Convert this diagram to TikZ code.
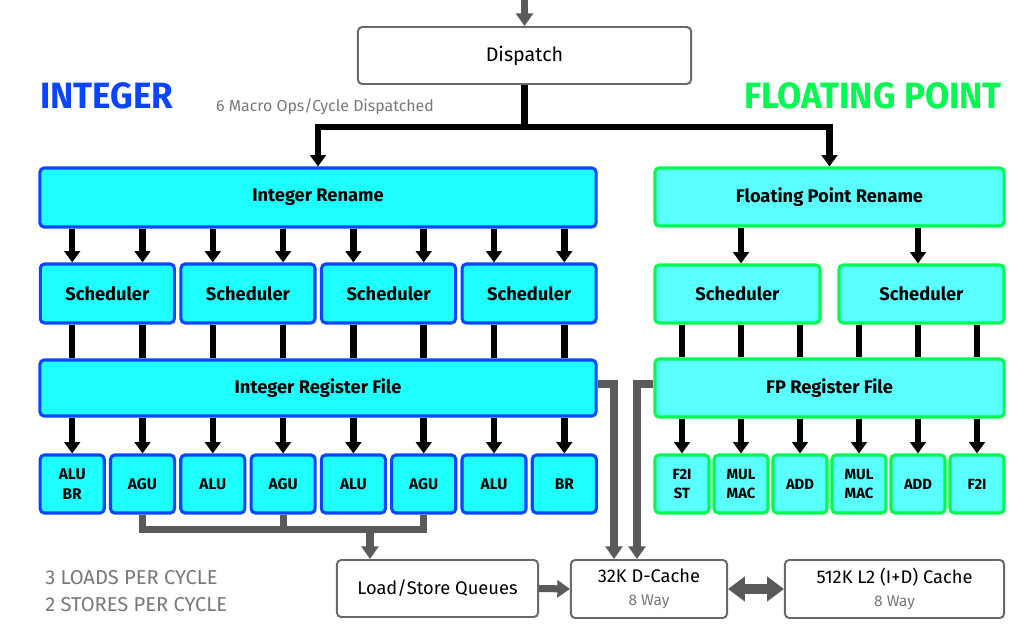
\documentclass[tikz,border=0pt]{standalone}
\usepackage{fontspec}
\setmainfont{Fira Sans}
\newfontfamily\headfont{Fira Sans}[FakeStretch=0.96]
\usetikzlibrary{arrows.meta}
\usetikzlibrary{calc}

\definecolor{intfill}{RGB}{30,255,255}
\definecolor{intline}{RGB}{10,70,255}
\definecolor{fpfill}{RGB}{90,255,255}
\definecolor{fpline}{RGB}{0,250,80}
\definecolor{wiregray}{RGB}{90,90,90}
\definecolor{boxgray}{RGB}{105,105,105}
\definecolor{txtgray}{RGB}{120,120,120}

\begin{document}
\begin{tikzpicture}[x=0.025cm, y=-0.025cm, line join=miter,
        int_box/.style={draw=intline, fill=intfill, line width=2.2pt, rounded corners=3pt, inner sep=0pt, font=\bfseries\fontsize{13}{15}\selectfont},
        fp_box/.style={draw=fpline, fill=fpfill, line width=2.2pt, rounded corners=3pt, inner sep=0pt, font=\bfseries\fontsize{13}{15}\selectfont},
        int_unit/.style={int_box, minimum width=1.6cm, minimum height=1.45cm, align=center, font=\bfseries\fontsize{11}{14}\selectfont},
        fp_unit/.style={fp_box, minimum width=1.35cm, minimum height=1.45cm, align=center, font=\bfseries\fontsize{10.5}{13.5}\selectfont},
        plain_box/.style={draw=boxgray, fill=white, line width=1.4pt, rounded corners=3pt, inner sep=0pt, align=center, font=\fontsize{13}{17}\selectfont},
        note_style/.style={text=txtgray, inner sep=0pt, font=\fontsize{11.3}{13}\selectfont},
        blk_line/.style={draw=black, line width=4.6pt},
        blk_arrow/.style={blk_line, -{Triangle[width=11pt,length=8pt]}},
        gray_line/.style={draw=wiregray, line width=5pt},
        gray_arrow/.style={gray_line, -{Triangle[width=12pt,length=9pt]}},
        gray_both/.style={draw=wiregray, line width=7pt, {Triangle[width=17pt,length=12pt]}-{Triangle[width=17pt,length=12pt]}}]

        \useasboundingbox (0,0) rectangle (1022,637);

        % titles
        \node [text=intline, inner sep=0pt, font=\headfont\bfseries\fontsize{26}{30}\selectfont](int_title) at (107,96) {INTEGER};

        \node [text=fpline, inner sep=0pt, font=\headfont\bfseries\fontsize{26}{30}\selectfont](fp_title) at (873,96) {FLOATING POINT};

        \node [note_style](ops_note) at (325,107) {6 Macro Ops/Cycle Dispatched};

        \node [note_style, anchor=west, font=\fontsize{14.3}{16}\selectfont](loads_note) at (45,578) {3 LOADS PER CYCLE};

        \node [note_style, anchor=west, font=\fontsize{14.3}{16}\selectfont](stores_note) at (45,605) {2 STORES PER CYCLE};

        % dispatch
        \coordinate (top) at (524.5,0);

        \node [plain_box, minimum width=8.325cm, minimum height=1.425cm, font=\fontsize{14}{17}\selectfont](disp) at (524.5,55.5) {Dispatch};

        \coordinate (split) at (524.5,127);

        % integer side
        \node [int_box, minimum width=13.9cm, minimum height=1.475cm](int_ren) at (318,197.5) {Integer Rename};

        \node [int_box, minimum width=3.35cm, minimum height=1.475cm](is1) at (107.35,293.5) {Scheduler};

        \node [int_box, minimum width=3.35cm, minimum height=1.475cm](is2) at (247.95,293.5) {Scheduler};

        \node [int_box, minimum width=3.35cm, minimum height=1.475cm](is3) at (388.55,293.5) {Scheduler};

        \node [int_box, minimum width=3.35cm, minimum height=1.475cm](is4) at (529.15,293.5) {Scheduler};

        \node [int_box, minimum width=13.9cm, minimum height=1.4cm](int_rf) at (318,388) {Integer Register File};

        \node [int_unit](u1) at (72.2,484) {ALU\\BR};

        \node [int_unit](u2) at (142.5,484) {AGU};

        \node [int_unit](u3) at (212.8,484) {ALU};

        \node [int_unit](u4) at (283.1,484) {AGU};

        \node [int_unit](u5) at (353.4,484) {ALU};

        \node [int_unit](u6) at (423.7,484) {AGU};

        \node [int_unit](u7) at (494.0,484) {ALU};

        \node [int_unit](u8) at (564.3,484) {BR};

        % floating point side
        \node [fp_box, minimum width=8.725cm, minimum height=1.45cm](fp_ren) at (829.5,197) {Floating Point Rename};

        \node [fp_box, minimum width=4.125cm, minimum height=1.45cm](fs1) at (737.5,294) {Scheduler};

        \node [fp_box, minimum width=4.125cm, minimum height=1.45cm](fs2) at (921.5,294) {Scheduler};

        \node [fp_box, minimum width=8.725cm, minimum height=1.45cm](fp_rf) at (829.5,388) {FP Register File};

        \node [fp_unit](f1) at (682,484) {F2I\\ST};

        \node [fp_unit](f2) at (741,484) {MUL\\MAC};

        \node [fp_unit](f3) at (800,484) {ADD};

        \node [fp_unit](f4) at (859,484) {MUL\\MAC};

        \node [fp_unit](f5) at (918,484) {ADD};

        \node [fp_unit](f6) at (977,484) {F2I};

        % memory
        \node [plain_box, minimum width=5.025cm, minimum height=1.425cm](lsq) at (437.5,588.5) {Load/Store Queues};

        \node [plain_box, minimum width=3.9cm, minimum height=1.45cm](dcache) at (649,589) {32K D-Cache\\[-1pt]{\color{txtgray}\fontsize{11}{13}\selectfont 8 Way}};

        \node [plain_box, minimum width=5.475cm, minimum height=1.45cm](l2) at (894.5,589) {512K L2 (I+D) Cache\\[-1pt]{\color{txtgray}\fontsize{11}{13}\selectfont 8 Way}};

        \coordinate (agu_bus) at (370,529.5);

        % dispatch wires
        \draw [gray_arrow] (top) -- (disp.north);

        \draw [blk_line] (disp.south) -- (split);

        \draw [blk_arrow] (split) -| (int_ren.north);

        \draw [blk_arrow] (split) -| (fp_ren.north);

        % rename -> schedulers
        \draw [blk_arrow] (u1 |- int_ren.south) -- (u1 |- is1.north);
        \draw [blk_arrow] (u2 |- int_ren.south) -- (u2 |- is1.north);
        \draw [blk_arrow] (u3 |- int_ren.south) -- (u3 |- is2.north);
        \draw [blk_arrow] (u4 |- int_ren.south) -- (u4 |- is2.north);
        \draw [blk_arrow] (u5 |- int_ren.south) -- (u5 |- is3.north);
        \draw [blk_arrow] (u6 |- int_ren.south) -- (u6 |- is3.north);
        \draw [blk_arrow] (u7 |- int_ren.south) -- (u7 |- is4.north);
        \draw [blk_arrow] (u8 |- int_ren.south) -- (u8 |- is4.north);

        \draw [blk_arrow] (f2 |- fp_ren.south) -- (f2 |- fs1.north);
        \draw [blk_arrow] (f5 |- fp_ren.south) -- (f5 |- fs2.north);

        % schedulers -> register files
        \draw [blk_line] (u1 |- is1.south) -- (u1 |- int_rf.north);
        \draw [blk_line] (u2 |- is1.south) -- (u2 |- int_rf.north);
        \draw [blk_line] (u3 |- is2.south) -- (u3 |- int_rf.north);
        \draw [blk_line] (u4 |- is2.south) -- (u4 |- int_rf.north);
        \draw [blk_line] (u5 |- is3.south) -- (u5 |- int_rf.north);
        \draw [blk_line] (u6 |- is3.south) -- (u6 |- int_rf.north);
        \draw [blk_line] (u7 |- is4.south) -- (u7 |- int_rf.north);
        \draw [blk_line] (u8 |- is4.south) -- (u8 |- int_rf.north);

        \draw [blk_line] (f1 |- fs1.south) -- (f1 |- fp_rf.north);
        \draw [blk_line] (f2 |- fs1.south) -- (f2 |- fp_rf.north);
        \draw [blk_line] (f3 |- fs1.south) -- (f3 |- fp_rf.north);
        \draw [blk_line] (f4 |- fs2.south) -- (f4 |- fp_rf.north);
        \draw [blk_line] (f5 |- fs2.south) -- (f5 |- fp_rf.north);
        \draw [blk_line] (f6 |- fs2.south) -- (f6 |- fp_rf.north);

        % register files -> units
        \draw [blk_arrow] (u1 |- int_rf.south) -- (u1.north);
        \draw [blk_arrow] (u2 |- int_rf.south) -- (u2.north);
        \draw [blk_arrow] (u3 |- int_rf.south) -- (u3.north);
        \draw [blk_arrow] (u4 |- int_rf.south) -- (u4.north);
        \draw [blk_arrow] (u5 |- int_rf.south) -- (u5.north);
        \draw [blk_arrow] (u6 |- int_rf.south) -- (u6.north);
        \draw [blk_arrow] (u7 |- int_rf.south) -- (u7.north);
        \draw [blk_arrow] (u8 |- int_rf.south) -- (u8.north);

        \draw [blk_arrow] (f1 |- fp_rf.south) -- (f1.north);
        \draw [blk_arrow] (f2 |- fp_rf.south) -- (f2.north);
        \draw [blk_arrow] (f3 |- fp_rf.south) -- (f3.north);
        \draw [blk_arrow] (f4 |- fp_rf.south) -- (f4.north);
        \draw [blk_arrow] (f5 |- fp_rf.south) -- (f5.north);
        \draw [blk_arrow] (f6 |- fp_rf.south) -- (f6.north);

        % AGUs -> load/store
        \draw [gray_line] (u2.south) -- (u2 |- agu_bus) -- (u6 |- agu_bus) -- (u6.south);

        \draw [gray_line] (u4.south) -- (u4 |- agu_bus);

        \draw [gray_arrow] (agu_bus) -- (agu_bus |- lsq.north);

        % memory wires
        \draw [gray_arrow] ([yshift=0.1cm]int_rf.east) -| ([xshift=-0.875cm]dcache.north);

        \draw [gray_arrow] ([yshift=0.1cm]fp_rf.west) -| ([xshift=-0.3cm]dcache.north);

        \draw [gray_arrow] (lsq.east) -- (dcache.west);

        \draw [gray_both] (dcache.east) -- (l2.west);

        \end{tikzpicture}
\end{document}
